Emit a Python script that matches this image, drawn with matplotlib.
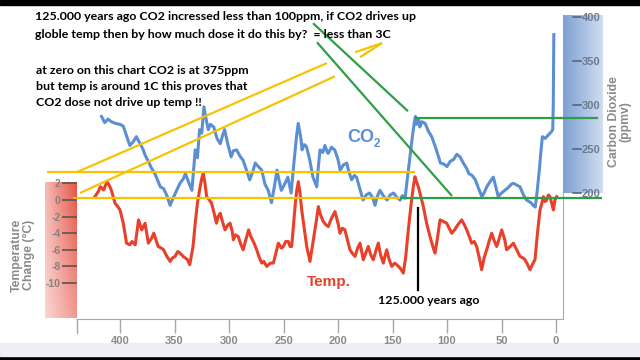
import numpy as np
import matplotlib
matplotlib.use('Agg')
import matplotlib.pyplot as plt
from matplotlib.patches import Rectangle

# ---------------- data (thousand years ago) ----------------
co2_age = [417, 414, 411, 408, 404, 400, 397, 394, 391, 388, 385, 382, 379, 377, 374, 371, 368, 366,
           363, 360, 357, 354, 351, 348, 345, 342, 340, 337, 334, 331, 329, 327, 325, 323, 321, 319,
           317, 314, 311, 308, 306, 304, 301, 298, 296, 293, 290, 287, 284, 281, 278, 276, 273, 270,
           267, 264, 261, 258, 256, 254, 252, 249, 246, 243, 240, 238, 236.5, 234, 233, 231, 229, 226,
           223, 221, 219.5, 218, 216.5, 214, 212, 210, 209, 206, 203, 200, 198, 195, 192, 190, 187.5,
           185, 183, 180, 177, 174, 171, 168, 166, 164, 161.5, 158, 155, 152, 149, 146, 143, 141,
           138.5, 136, 134, 132, 130, 129, 128, 126, 125, 123, 120, 117, 114, 110, 106, 103, 100, 97,
           94, 91, 88, 85, 82, 80, 77, 74, 71, 68, 66, 63.5, 61, 57.5, 55, 53, 50, 47, 44, 41, 39, 36,
           33, 30, 27, 23, 21, 19, 17, 15, 14, 12.5, 10, 7, 4, 3, 2.5, 2]
co2_ppm = [287, 280, 284, 281, 279, 278, 276, 265, 254, 258, 264, 257, 250, 243, 236, 228, 222, 216,
           207, 205, 197, 186, 195, 203, 211, 216, 222, 212, 203, 249, 240, 272, 268, 298, 284, 272,
           278, 275, 262, 256, 265, 272, 255, 241, 248, 249, 242, 237, 226, 215, 225, 234, 230, 226,
           210, 203, 189, 210, 226, 214, 203, 210, 218, 200, 240, 265, 279, 262, 249, 255, 253, 238,
           218, 212, 207, 230, 249, 246, 254, 247, 245, 252, 249, 238, 226, 232, 234, 224, 215,
           220, 218, 205, 192, 198, 200, 194, 186, 196, 203, 196, 192, 198, 200, 195, 192, 197,
           194, 220, 241, 262, 280, 287, 278, 284, 275, 281, 279, 270, 264, 250, 234, 233, 230, 236,
           238, 244, 241, 234, 228, 222, 220, 215, 205, 196, 200, 207, 212, 218, 206, 196, 200, 203,
           206, 210, 211, 209, 207, 198, 192, 189, 186, 184, 205, 230, 245, 264, 262, 266, 270, 272,
           300, 380]

temp_age = [423, 420, 418, 415, 412, 410, 408, 404.5, 402, 400, 397, 394, 391, 389, 386, 383, 380,
            377, 374, 371, 369, 365, 362, 360, 357, 354, 352, 349.5, 347, 345, 342, 340, 338, 336,
            333, 331, 329, 327, 325, 323.6, 322, 320.5, 318, 316, 314, 311.5, 310, 308, 306, 303.7,
            301, 299, 297, 296, 294, 291.5, 289, 287, 285, 282, 280, 277, 274.6, 272, 270, 268,
            265.4, 262, 259.3, 257, 254.7, 252, 250.2, 248, 245.6, 244, 242.5, 241, 239.4, 238,
            236.4, 235, 233.3, 231, 228.7, 227, 225.7, 224, 222.6, 220, 218, 216, 213.5, 211, 208.9,
            206, 202.8, 200, 198.2, 196, 193.6, 191, 189, 187, 184.4, 182, 179.8, 178, 176.8, 174,
            172.2, 170, 167.6, 165, 163, 161, 158.4, 157, 155.3, 153, 150.7, 148, 146.2, 143, 140.1,
            138, 135.5, 133, 130.9, 129.4, 128, 126.3, 124, 121.7, 118.7, 115.6, 113, 111, 109,
            106.4, 103, 100.3, 98, 95.7, 93, 91.1, 89, 86.5, 84, 81.9, 79, 77.4, 75, 72.8, 70, 68.2,
            66, 63.6, 61, 59, 57, 54.4, 52, 49.8, 47, 45.3, 42, 39.1, 36, 33, 30, 28.4, 26, 23.9, 21,
            19.3, 17, 14.7, 13, 11.6, 10, 8.6, 7, 5.5, 4, 2.4, 1, -0.6]
temp_c = [0.4, 1.0, 1.6, 1.2, 2.2, 1.8, 1.2, -0.4, -0.8, -1.2, -2.8, -5.2, -5.4, -5.0, -5.4, -2.4, -3.6,
          -2.8, -5.2, -4.6, -4.0, -5.6, -5.8, -6.0, -6.8, -7.4, -7.0, -6.8, -6.2, -6.4, -6.8, -7.0, -7.2,
          -7.8, -5.6, -2.8, -0.4, 1.2, 2.6, 3.2, 2.0, 0.4, 0.0, -0.4, -1.4, -2.8, -2.0, -1.6, -2.6,
          -3.6, -3.0, -2.8, -3.8, -4.8, -4.2, -4.4, -5.4, -6.0, -5.0, -3.6, -4.4, -5.2, -6.0, -7.0,
          -7.6, -7.4, -8.0, -7.6, -7.6, -6.4, -5.2, -5.8, -5.6, -5.0, -5.0, -5.6, -5.6, -3.2, -0.8,
          1.0, 2.2, 1.0, -1.2, -3.4, -5.6, -6.6, -7.4, -6.0, -4.8, -2.6, -0.8, -1.8, -2.6, -3.0, -3.2,
          -2.2, -1.4, -2.8, -4.0, -3.4, -3.6, -5.0, -6.0, -6.4, -6.8, -5.8, -5.2, -6.4, -7.2, -6.2,
          -5.6, -6.6, -7.2, -6.0, -5.2, -6.6, -7.6, -6.8, -6.0, -7.2, -8.0, -7.6, -7.8, -8.2, -8.8,
          -7.0, -3.6, -0.6, 1.6, 2.8, 2.2, 1.6, 0.4, -0.8, -2.8, -4.4, -5.6, -6.4, -4.8,
          -2.4, -2.6, -2.8, -3.4, -4.0, -3.6, -3.2, -2.8, -2.4, -3.0, -3.6, -4.6, -5.2, -5.0, -5.6,
          -7.2, -8.4, -7.0, -6.0, -4.8, -4.0, -4.8, -5.6, -4.6, -3.6, -4.8, -6.0, -5.6, -5.2, -6.0,
          -6.8, -7.0, -7.2, -7.8, -8.4, -7.6, -7.2, -4.0, -1.2, -0.4, 0.4, -0.2, 0.0, 0.6, 0.4,
          -0.4, -1.2, 0.0, 0.4]

x_ticks = [400, 350, 300, 250, 200, 150, 100, 50, 0]
temp_ticks = [2, 0, -2, -4, -6, -8, -10]
co2_ticks = [200, 250, 300, 350, 400]

# annotation strokes drawn on the chart (age kyr, temperature degC)
yellow_lines = [([467.0, 129.4], [3.37, 3.37]),
                ([443.1, 143.1], [0.22, 0.22]),
                ([439.4, 210.1], [3.37, 16.5]),
                ([436.7, 202.8], [0.84, 14.9]),
                ([184.4, 159.6], [17.8, 18.9]),
                ([179.8, 159.6], [17.2, 18.9])]
green_lines = [([222.9, 135.8], [21.3, 10.7]),
               ([219.3, 95.4], [19.0, 0.48]),
               ([129.4, -38.5], [9.88, 9.88]),
               ([143.1, -42.2], [0.22, 0.22])]
marker_age = 126.6
marker_temp = [-1.0, -10.8]

# ---------------- figure ----------------
W, H = 640, 360
fig = plt.figure(figsize=(6.4, 3.6), dpi=100)
fig.patch.set_facecolor('white')

def fx(px):
    return px / W

def fy(py):
    return 1 - py / H

# video-style bands
fig.patches.append(Rectangle((0, fy(5)), 1, 5 / H, transform=fig.transFigure,
                             color='black', zorder=0))
fig.patches.append(Rectangle((0, 0), 1, 4 / H, transform=fig.transFigure,
                             color='black', zorder=0))
fig.patches.append(Rectangle((0, 4 / H), 1, 13 / H, transform=fig.transFigure,
                             color='#eeeef6', zorder=0))

# red gradient bar (temperature)
rb = fig.add_axes([fx(45), fy(318), 32 / W, 136 / H])
hh = np.linspace(0, 1, 64)[None, :]
vv = np.linspace(0, 1, 64)[:, None]
s = (0.4 + 0.6 * hh) * (1 - 0.4 * vv)
red = np.array([0.90, 0.33, 0.27])
img = 1 - s[..., None] * (1 - red)
rb.imshow(img, aspect='auto', extent=(0, 1, 0, 1))
rb.axis('off')
rb.set_zorder(0)

# blue gradient bar (CO2)
bb = fig.add_axes([fx(563), fy(193), 40 / W, 178 / H])
s2 = (0.85 - 0.55 * hh) * np.ones_like(vv)
blue = np.array([0.40, 0.56, 0.80])
img2 = 1 - s2[..., None] * (1 - blue)
bb.imshow(img2, aspect='auto', extent=(0, 1, 0, 1))
bb.axis('off')
bb.set_zorder(0)

pos = [fx(77), fy(319), 486 / W, 304 / H]
ax = fig.add_axes(pos)
ax.patch.set_alpha(0)
ax.set_zorder(2)
xlim = ((556 - 77) / 1.09, (556 - 563) / 1.09)
ylim_t = ((200 - 319) / 8.3, (200 - 15) / 8.3)
ax.set_xlim(*xlim)
ax.set_ylim(*ylim_t)

tick_font = dict(family=['Liberation Sans', 'DejaVu Sans'], weight='bold')

ax.plot(temp_age, temp_c, color='#e8402a', lw=2.2, solid_joinstyle='round', zorder=3)

for sp in ['top', 'left']:
    ax.spines[sp].set_visible(False)
ax.spines['bottom'].set_color('#a8a8a8')
ax.spines['right'].set_color('#a8a8a8')
ax.spines['right'].set_bounds(ylim_t[0], (200 - 193) / 8.3)

ax.set_xticks(x_ticks)
ax.set_xticklabels([str(v) for v in x_ticks], **tick_font)
ax.tick_params(axis='x', direction='out', length=10, width=1, color='#a8a8a8',
               pad=2, labelsize=8, labelcolor='#8a8a8a')
ax.plot([0, 0], [0, -14 / 304], transform=ax.transAxes, clip_on=False,
        color='#a8a8a8', lw=1)

ax.set_yticks(temp_ticks)
ax.set_yticklabels([str(v) for v in temp_ticks], **tick_font)
ax.tick_params(axis='y', direction='out', length=10.8, width=1.3, color='#6d5550',
               pad=1, labelsize=7.5, labelcolor='#8a7f7f')

ax2 = ax.twinx()
ax2.set_zorder(3)
ax2.set_ylim((193 - 319) / 0.88 + 200, (193 - 15) / 0.88 + 200)
ax2.plot(co2_age, co2_ppm, color='#5b8fd3', lw=2.2, solid_joinstyle='round')
for sp in ax2.spines.values():
    sp.set_visible(False)
ax2.set_yticks(co2_ticks)
ax2.set_yticklabels([str(v) for v in co2_ticks], **tick_font)
ax2.tick_params(axis='y', length=0, pad=13.7, labelsize=8, labelcolor='#6e7a8e')
for v in co2_ticks:
    ax2.plot([1.0206, 1.037], [v, v], transform=ax2.get_yaxis_transform(),
             clip_on=False, color='#55667f', lw=1.2)

# annotation overlay
ax3 = fig.add_axes(pos)
ax3.set_zorder(5)
ax3.set_xlim(*xlim)
ax3.set_ylim(*ylim_t)
ax3.axis('off')
for xs, ys in yellow_lines:
    ax3.plot(xs, ys, color='#f7c300', lw=1.6, clip_on=False, solid_capstyle='butt')
for xs, ys in green_lines:
    ax3.plot(xs, ys, color='#2f9f45', lw=1.6, clip_on=False, solid_capstyle='butt')
ax3.plot([marker_age, marker_age], marker_temp, color='black', lw=1.6, clip_on=False)

# texts
note_font = dict(family=['Lato', 'DejaVu Sans'], weight='bold', color='black', fontsize=8.9)
fig.text(fx(35), fy(17), "125.000 years ago CO2 incressed less than 100ppm, if CO2 drives up",
         va='center', ha='left', zorder=10, **note_font)
fig.text(fx(35), fy(35), "globle temp then by how much dose it do this by?  = less than 3C",
         va='center', ha='left', zorder=10, **note_font)
fig.text(fx(36), fy(70), "at zero on this chart CO2 is at 375ppm",
         va='center', ha='left', zorder=10, **note_font)
fig.text(fx(36), fy(86), "but temp is around 1C this proves that",
         va='center', ha='left', zorder=10, **note_font)
fig.text(fx(36), fy(102), "CO2 dose not drive up temp !!",
         va='center', ha='left', zorder=10, **note_font)
fig.text(fx(378), fy(301), "125.000 years ago", va='center', ha='left', zorder=10, **note_font)

lab_font = dict(family=['Liberation Sans', 'DejaVu Sans'], weight='bold')
fig.text(fx(347), fy(138), "CO", color='#5b8fd3', fontsize=13, va='center', ha='left',
         zorder=10, **lab_font)
fig.text(fx(374), fy(144), "2", color='#5b8fd3', fontsize=8.5, va='center', ha='left',
         zorder=10, **lab_font)
fig.text(fx(307), fy(282), "Temp.", color='#e8402a', fontsize=11, va='center', ha='left',
         zorder=10, **lab_font)

fig.text(fx(23), fy(255), "Temperature\nChange (\u00b0C)", rotation=90, ha='center',
         va='center', multialignment='center', color='#8a8a8a', fontsize=8.8,
         linespacing=0.95, **lab_font)
fig.text(fx(620), fy(122), "Carbon Dioxide\n(ppmv)", rotation=90, ha='center',
         va='center', multialignment='center', color='#8a8a8a', fontsize=8.8,
         linespacing=0.95, **lab_font)

fig.savefig('out.png', dpi=100)
